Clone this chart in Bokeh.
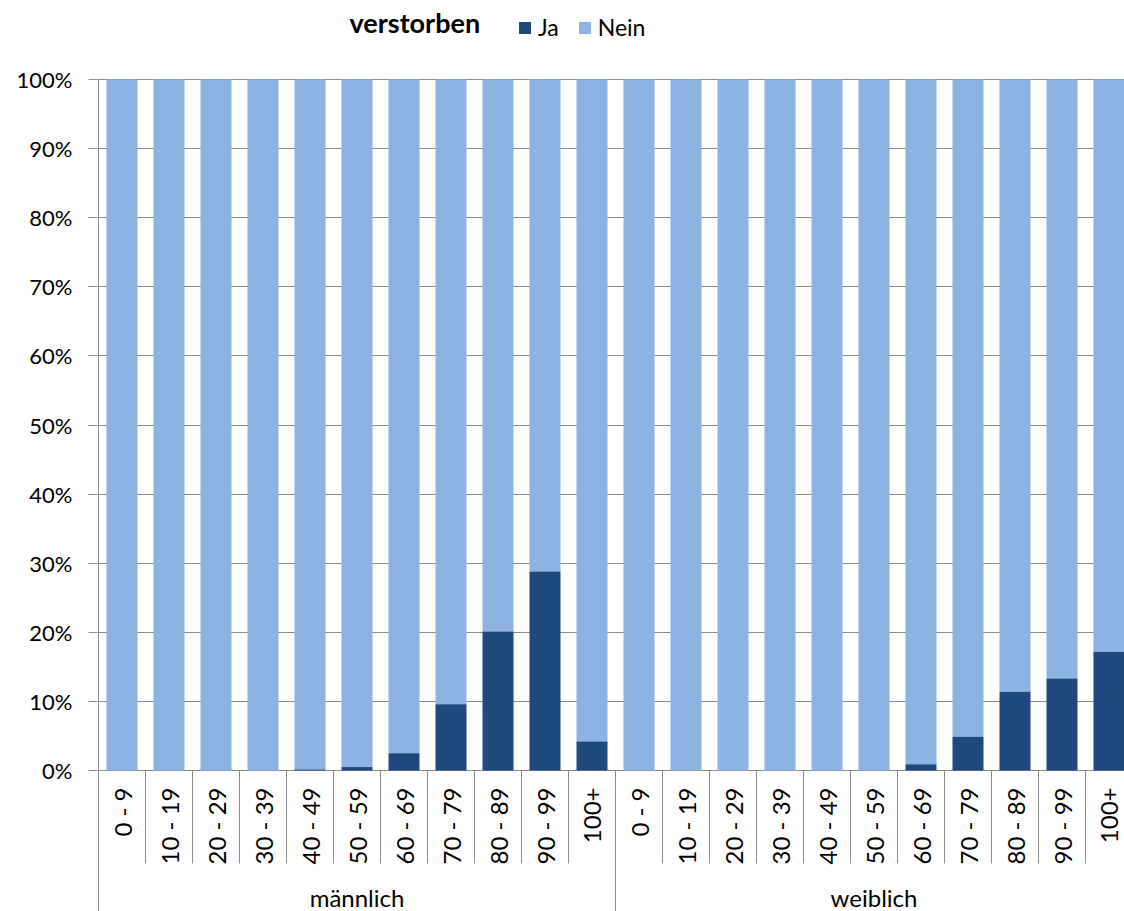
from math import pi
from bokeh.plotting import figure
from bokeh.models import (Range1d, FixedTicker, NumeralTickFormatter, ColumnDataSource,
                          Legend, LegendItem, Label)
from bokeh.core.properties import value
from bokeh.embed import file_html
from bokeh.resources import INLINE

# ---------------- data ----------------
age_groups = ["0 - 9", "10 - 19", "20 - 29", "30 - 39", "40 - 49", "50 - 59",
              "60 - 69", "70 - 79", "80 - 89", "90 - 99", "100+"]
sexes = ["männlich", "weiblich"]
ja_maennlich = [0.0, 0.0, 0.0, 0.0, 0.15, 0.5, 2.5, 9.6, 20.1, 28.8, 4.2]   # % verstorben = Ja
ja_weiblich = [0.0, 0.0, 0.0, 0.0, 0.0, 0.0, 0.9, 4.9, 11.4, 13.3, 17.2]
y_ticks = [0, 10, 20, 30, 40, 50, 60, 70, 80, 90, 100]

# ---------------- layout constants ----------------
FIG_W, FIG_H = 1124, 911
LEFT_PX = 97             # frame left (x=0 sits 1px inside)
SLOT_PX = 47.0           # px per category slot
PX_PER_UNIT = 691.0      # px per 100 %
TOP_PX = 79              # px from frame top to 100 % line
FRAME_W = FIG_W - LEFT_PX
FRAME_H = FIG_H
x_start = -1.0 / SLOT_PX
x_end = x_start + FRAME_W / SLOT_PX
y_top = 1 + TOP_PX / PX_PER_UNIT
y_bottom = -(FRAME_H - TOP_PX - PX_PER_UNIT) / PX_PER_UNIT

def py(pix):   # window pixel -> data y
    return 1 - (pix - TOP_PX) / PX_PER_UNIT

def px(pix):   # window pixel -> data x
    return (pix - LEFT_PX - 1) / SLOT_PX

DARK = "#1F497D"
LIGHT = "#8DB3E2"
GRID = "#8C8C8C"
FONT = "Lato"

n = len(age_groups)
xs, ja, nein, labels = [], [], [], []
for g, vals in enumerate([ja_maennlich, ja_weiblich]):
    for i, v in enumerate(vals):
        xs.append(g * n + i + 0.5)
        ja.append(v / 100.0)
        nein.append(1.0)
        labels.append(age_groups[i])

src = ColumnDataSource(dict(x=xs, ja=ja, top=nein, label=labels,
                            zero=[0.0] * len(xs)))

p = figure(width=FIG_W, height=FIG_H,
           x_range=Range1d(x_start, x_end), y_range=Range1d(y_bottom, y_top),
           output_backend="svg", toolbar_location=None, x_axis_location=None,
           min_border_left=LEFT_PX, min_border_right=0, min_border_top=0, min_border_bottom=0)
p.outline_line_color = None
p.background_fill_color = "white"
p.border_fill_color = "white"

# gridlines / y axis
p.xgrid.visible = False
p.ygrid.ticker = FixedTicker(ticks=[t / 100 for t in y_ticks])
p.ygrid.grid_line_color = GRID
p.ygrid.grid_line_width = 1
yax = p.yaxis[0]
yax.ticker = FixedTicker(ticks=[t / 100 for t in y_ticks])
yax.formatter = NumeralTickFormatter(format="0%")
yax.axis_line_color = None
yax.major_tick_line_color = GRID
yax.major_tick_out = 9
yax.major_tick_in = 0
yax.minor_tick_line_color = None
yax.major_label_text_font = FONT
yax.major_label_text_font_size = "22px"
yax.major_label_text_color = "black"
yax.major_label_standoff = 16

# bars
r_nein = p.vbar(x="x", width=0.66, bottom="ja", top="top", source=src,
                fill_color=LIGHT, line_color=None)
r_ja = p.vbar(x="x", width=0.66, bottom="zero", top="ja", source=src,
              fill_color=DARK, line_color=None)

# left axis line
p.segment(x0=[0], y0=[1.0], x1=[0], y1=[y_bottom], line_color=GRID, line_width=1)

# category separators
sep_y = py(863)
inner = [g * n + i for g in range(2) for i in range(1, n)]
p.segment(x0=inner, y0=[0] * len(inner), x1=inner, y1=[sep_y] * len(inner),
          line_color=GRID, line_width=1)
outer = [g * n for g in range(1, 3)]
p.segment(x0=outer, y0=[0] * len(outer), x1=outer, y1=[y_bottom] * len(outer),
          line_color=GRID, line_width=1)

# category labels (rotated)
p.text(x="x", y=py(787), text="label", source=src, angle=pi / 2,
       text_align="right", text_baseline="middle",
       text_font=value(FONT), text_font_size="24px", text_color="black")

# group labels
p.text(x=[g * n + n / 2 for g in range(2)], y=[py(897)] * 2, text=sexes,
       text_align="center", text_baseline="middle",
       text_font=value(FONT), text_font_size="24px", text_color="black")

# legend
p.add_layout(Label(x=px(349), y=py(22), text="verstorben",
                   text_font=FONT, text_font_size="27px", text_font_style="bold",
                   text_baseline="middle", text_color="black"))
legend = Legend(items=[LegendItem(label="Ja", renderers=[r_ja]),
                       LegendItem(label="Nein", renderers=[r_nein])],
                orientation="horizontal", location=(517 - LEFT_PX, FRAME_H - 27 - 14),
                glyph_width=15, glyph_height=15, label_standoff=6, spacing=18,
                padding=0, margin=0, border_line_color=None, background_fill_alpha=0,
                label_text_font=FONT, label_text_font_size="23px",
                label_text_color="black")
p.add_layout(legend)

open("out.html", "w").write(file_html(p, INLINE))
